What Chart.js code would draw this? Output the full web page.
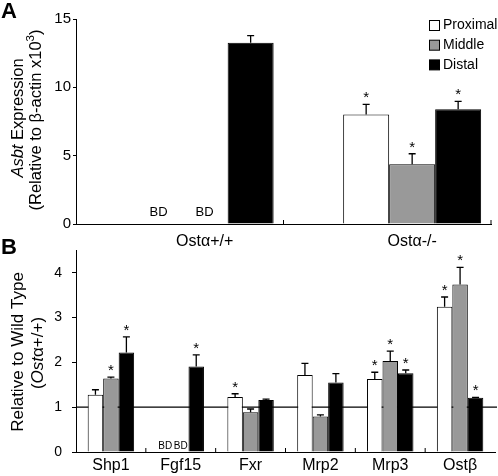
<!DOCTYPE html>
<html>
<head>
  <title>Asbt and transporter expression</title>
  <script src="https://cdn.jsdelivr.net/npm/chart.js"></script>
  <style>
    body { margin: 0; background: #fff; }
    #wrap { position: relative; width: 498px; height: 476px; }
    canvas { position: absolute; left: 0; }
  </style>
</head>
<body>
  <div id="wrap">
    <canvas id="chartA" width="498" height="252" style="top:0"></canvas>
    <canvas id="chartB" width="498" height="244" style="top:232px"></canvas>
  </div>
  <script>
    const segments = ['Proximal', 'Middle', 'Distal'];
    const segmentColors = ['#ffffff', '#999999', '#000000'];

    // panel A - Asbt
    const genotypes = ['Ostα+/+', 'Ostα-/-'];
    const genotypePos = [0.62, 1.62];
    const asbtProximal = [null, 8.02];
    const asbtMiddle = [null, 4.37];
    const asbtDistal = [13.26, 8.39];
    const asbtProximalErr = [null, 0.73];
    const asbtMiddleErr = [null, 0.77];
    const asbtDistalErr = [0.52, 0.58];
    const asbtProximalSig = [false, true];
    const asbtMiddleSig = [false, true];
    const asbtDistalSig = [false, true];

    // panel B - relative to wild type
    const genes = ['Shp1', 'Fgf15', 'Fxr', 'Mrp2', 'Mrp3', 'Ostβ'];
    const relProximal = [1.28, null, 1.23, 1.72, 1.63, 3.24];
    const relMiddle = [1.64, null, 0.89, 0.79, 2.03, 3.74];
    const relDistal = [2.22, 1.91, 1.16, 1.55, 1.76, 1.21];
    const relProximalErr = [0.11, null, 0.07, 0.26, 0.15, 0.22];
    const relMiddleErr = [0.03, null, 0.07, 0.04, 0.22, 0.38];
    const relDistalErr = [0.35, 0.26, 0.02, 0.20, 0.07, 0.01];
    const relProximalSig = [false, false, true, false, true, true];
    const relMiddleSig = [true, false, false, false, true, true];
    const relDistalSig = [true, true, false, false, true, true];

    const FONT = '"Liberation Sans", Arial, sans-serif';

    function drawRich(ctx, parts, size) {
      let total = 0;
      parts.forEach(p => {
        ctx.font = (p.it ? 'italic ' : '') + (p.sup ? size * 0.7 : size) + 'px ' + FONT;
        p.w = ctx.measureText(p.t).width;
        total += p.w;
      });
      let x = -total / 2;
      parts.forEach(p => {
        ctx.font = (p.it ? 'italic ' : '') + (p.sup ? size * 0.7 : size) + 'px ' + FONT;
        ctx.fillText(p.t, x, p.sup ? -size * 0.32 : 0);
        x += p.w;
      });
    }

    const extras = {
      id: 'extras',
      beforeDatasetsDraw(chart, args, opts) {
        if (opts.refLine == null) return;
        const ctx = chart.ctx, area = chart.chartArea;
        const y = chart.scales.y.getPixelForValue(opts.refLine);
        ctx.save();
        ctx.strokeStyle = '#000';
        ctx.lineWidth = 1.2;
        ctx.beginPath();
        ctx.moveTo(area.left, y);
        ctx.lineTo(area.right + 2, y);
        ctx.stroke();
        ctx.restore();
      },
      afterDatasetsDraw(chart, args, opts) {
        const ctx = chart.ctx, yScale = chart.scales.y;
        ctx.save();
        ctx.fillStyle = '#000';
        ctx.strokeStyle = '#000';
        ctx.lineWidth = 1.3;
        chart.data.datasets.forEach((ds, i) => {
          chart.getDatasetMeta(i).data.forEach((bar, j) => {
            const v = ds.values[j];
            if (v == null) {
              ctx.font = opts.bdSize + 'px ' + FONT;
              ctx.textAlign = 'center';
              ctx.textBaseline = 'middle';
              ctx.fillText('BD', bar.x + (opts.bdShift || 0), yScale.getPixelForValue(0) - opts.bdLift);
              return;
            }
            const top = yScale.getPixelForValue(v + (ds.err[j] || 0));
            ctx.beginPath();
            ctx.moveTo(bar.x, yScale.getPixelForValue(v));
            ctx.lineTo(bar.x, top);
            ctx.moveTo(bar.x - 3.5, top);
            ctx.lineTo(bar.x + 3.5, top);
            ctx.stroke();
            if (ds.sig[j]) {
              ctx.font = '15px ' + FONT;
              ctx.textAlign = 'center';
              ctx.textBaseline = 'alphabetic';
              ctx.fillText('*', bar.x, top - 2);
            }
          });
        });
        ctx.restore();
      },
      afterDraw(chart, args, opts) {
        const ctx = chart.ctx, area = chart.chartArea, x = chart.scales.x;
        ctx.save();
        ctx.fillStyle = '#000';
        ctx.strokeStyle = '#000';
        ctx.lineWidth = 1;
        // small category ticks on the x axis
        ctx.beginPath();
        opts.tickAt(x).forEach(px => {
          ctx.moveTo(px, area.bottom);
          ctx.lineTo(px, area.bottom - 4);
        });
        ctx.stroke();
        // panel letter
        ctx.font = 'bold 22px ' + FONT;
        ctx.textAlign = 'left';
        ctx.textBaseline = 'middle';
        ctx.fillText(opts.letter, opts.letterX, opts.letterY);
        // y axis title lines
        ctx.textAlign = 'left';
        opts.titleLines.forEach(line => {
          ctx.save();
          ctx.translate(line.x, line.y);
          ctx.rotate(-Math.PI / 2);
          drawRich(ctx, line.parts, line.size);
          ctx.restore();
        });
        // legend
        if (opts.legend) {
          chart.data.datasets.forEach((ds, i) => {
            const top = 20.5 + i * 19.7;
            ctx.fillStyle = ds.backgroundColor;
            ctx.fillRect(429.5, top, 10, 10);
            ctx.strokeRect(429.5, top, 10, 10);
            ctx.fillStyle = '#000';
            ctx.font = '14px ' + FONT;
            ctx.textAlign = 'left';
            ctx.textBaseline = 'middle';
            ctx.fillText(ds.label, 443, top + 5);
          });
        }
        ctx.restore();
      }
    };

    Chart.defaults.font.family = FONT;
    Chart.defaults.color = '#000';

    function makeSets(vals, errs, sigs, toData) {
      return segments.map((name, i) => ({
        label: name,
        data: toData(vals[i]),
        values: vals[i],
        err: errs[i],
        sig: sigs[i],
        backgroundColor: segmentColors[i],
        borderColor: '#000',
        borderWidth: 1,
        categoryPercentage: 0.665,
        barPercentage: 1
      }));
    }

    new Chart(document.getElementById('chartA'), {
      type: 'bar',
      data: {
        datasets: makeSets(
          [asbtProximal, asbtMiddle, asbtDistal],
          [asbtProximalErr, asbtMiddleErr, asbtDistalErr],
          [asbtProximalSig, asbtMiddleSig, asbtDistalSig],
          arr => arr.map((v, k) => ({ x: genotypePos[k], y: v }))
        )
      },
      options: {
        responsive: false,
        animation: false,
        devicePixelRatio: 1,
        layout: { padding: { left: 0, top: 19, right: 7, bottom: 0 } },
        plugins: {
          legend: { display: false },
          tooltip: { enabled: false },
          extras: {
            letter: 'A', letterX: 1, letterY: 12,
            bdSize: 13, bdLift: 12,
            legend: true,
            tickAt: x => [1, 2].map(v => x.getPixelForValue(v)),
            titleLines: [
              { x: 18, y: 118, size: 16.5, parts: [{ t: 'Asbt', it: true }, { t: ' Expression' }] },
              { x: 36, y: 120, size: 16.5, parts: [{ t: '(Relative to β-actin x10' }, { t: '3', sup: true }, { t: ')' }] }
            ]
          }
        },
        scales: {
          x: {
            type: 'linear', min: 0, max: 2, offset: false,
            grid: { display: false, drawTicks: false },
            border: { color: '#000', width: 1 },
            afterBuildTicks: s => { s.ticks = genotypePos.map(v => ({ value: v })); },
            afterFit: s => { s.height = 28; },
            ticks: {
              autoSkip: false, maxRotation: 0, padding: 8,
              font: { size: 16 },
              callback: (v, i) => genotypes[i]
            }
          },
          y: {
            min: 0, max: 15,
            ticks: { stepSize: 5, padding: 2, font: { size: 15 } },
            grid: { drawOnChartArea: false, tickLength: 3, color: '#000' },
            border: { color: '#000', width: 1 },
            afterFit: s => { s.width = 76; }
          }
        }
      },
      plugins: [extras]
    });

    new Chart(document.getElementById('chartB'), {
      type: 'bar',
      data: {
        labels: genes,
        datasets: makeSets(
          [relProximal, relMiddle, relDistal],
          [relProximalErr, relMiddleErr, relDistalErr],
          [relProximalSig, relMiddleSig, relDistalSig],
          arr => arr.slice()
        )
      },
      options: {
        responsive: false,
        animation: false,
        devicePixelRatio: 1,
        layout: { padding: { left: 0, top: 13, right: 3, bottom: 0 } },
        plugins: {
          legend: { display: false },
          tooltip: { enabled: false },
          extras: {
            letter: 'B', letterX: 1, letterY: 16,
            bdSize: 10, bdLift: 5.5,
            refLine: 1,
            legend: false,
            tickAt: x => {
              const step = x.getPixelForValue(1) - x.getPixelForValue(0);
              return genes.slice(0, genes.length - 1).map((g, i) => x.getPixelForValue(i) + step / 2);
            },
            titleLines: [
              { x: 18, y: 120, size: 17, parts: [{ t: 'Relative to Wild Type' }] },
              { x: 38, y: 121, size: 17, parts: [{ t: '(' }, { t: 'Ost', it: true }, { t: 'α+/+)' }] }
            ]
          }
        },
        scales: {
          x: {
            grid: { display: false, drawTicks: false },
            border: { color: '#000', width: 1 },
            afterFit: s => { s.height = 24; },
            ticks: { autoSkip: false, maxRotation: 0, padding: 4, font: { size: 16 } }
          },
          y: {
            min: 0, max: 4.5,
            ticks: { stepSize: 1, includeBounds: false, padding: 10, font: { size: 14 } },
            grid: { drawOnChartArea: false, tickLength: 4, color: '#000' },
            border: { color: '#000', width: 1 },
            afterFit: s => { s.width = 76; }
          }
        }
      },
      plugins: [extras]
    });
  </script>
</body>
</html>
